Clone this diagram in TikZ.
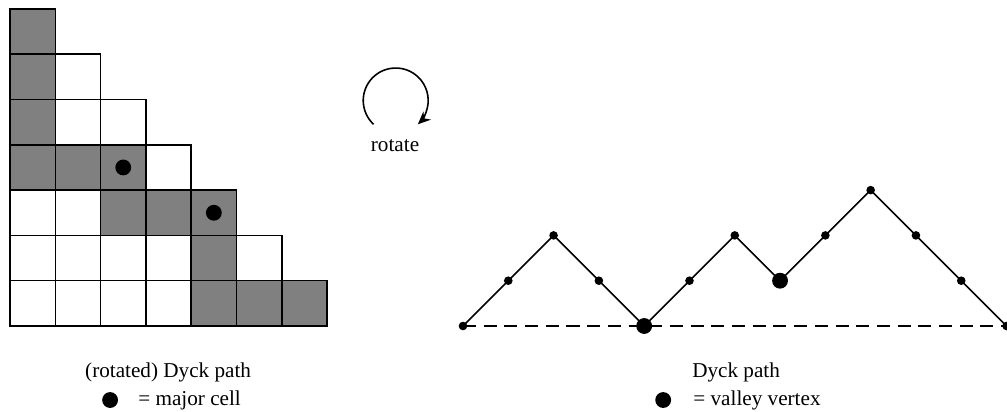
\documentclass[tikz,border=0pt]{standalone}
\usepackage{fontspec}
\setmainfont{Liberation Serif}
\usetikzlibrary{arrows.meta}
\tikzset{
  cellbox/.style={draw=black,line width=0.95pt},
  majorcell/.style={cellbox,fill=gray},
  bigdot/.style={circle,fill=black,inner sep=0pt,minimum size=0.35cm},
  smalldot/.style={circle,fill=black,inner sep=0pt,minimum size=0.19cm},
  pathline/.style={line width=1pt},
  baseline dash/.style={line width=1pt,dash pattern=on 8.2pt off 4.8pt},
  lbl/.style={font=\fontsize{13.3}{16}\selectfont,inner sep=0pt}
}
\begin{document}
\begin{tikzpicture}
\useasboundingbox (-0.221,-1.898) rectangle (22.01,7.197);
% staircase grid
\foreach \j in {0,...,6}{
  \pgfmathtruncatemacro{\n}{6-\j}
  \foreach \i in {0,...,\n}{
    \draw[cellbox] (\i,\j) rectangle ++(1,1);
  }
}
% shaded cells
\foreach \i/\j in {0/6,0/5,0/4,0/3,1/3,2/3,2/2,3/2,4/2,4/1,4/0,5/0,6/0}{
  \draw[majorcell] (\i,\j) rectangle ++(1,1);
}
\node[bigdot] (m1) at (2.5,3.5) {};
\node[bigdot] (m2) at (4.5,2.5) {};
% rotate arrow
\coordinate (rc) at (8.515,4.978);
\draw[line width=1pt,-{Stealth[length=8pt,width=7pt]}] ([shift={(227:0.717)}]rc) arc[start angle=227,end angle=-47,radius=0.717];
\node[lbl,anchor=base] (rot) at (8.5,3.848) {rotate};
% Dyck path
\foreach \k/\h in {0/0,1/1,2/2,3/1,4/0,5/1,6/2,7/1,8/2,9/3,10/2,11/1,12/0}{
  \coordinate (d\k) at (10+\k,\h);
}
\draw[baseline dash] (d0) -- (d12);
\draw[pathline] (d0) -- (d1) -- (d2) -- (d3) -- (d4) -- (d5) -- (d6) -- (d7) -- (d8) -- (d9) -- (d10) -- (d11) -- (d12);
\foreach \k in {0,1,2,3,5,6,8,9,10,11,12}{
  \node[smalldot] at (d\k) {};
}
\node[bigdot] (v1) at (d4) {};
\node[bigdot] (v2) at (d7) {};
% labels
\node[lbl,anchor=base] (t1) at (3.49,-1.141) {(rotated) Dyck path};
\node[bigdot] (k1) at (2.21,-1.634) {};
\node[lbl,anchor=base west] (t2) at (2.826,-1.744) {= major cell};
\node[lbl,anchor=base] (t3) at (16.03,-1.141) {Dyck path};
\node[bigdot] (k2) at (14.42,-1.634) {};
\node[lbl,anchor=base west] (t4) at (15.08,-1.744) {= valley vertex};
\end{tikzpicture}
\end{document}
